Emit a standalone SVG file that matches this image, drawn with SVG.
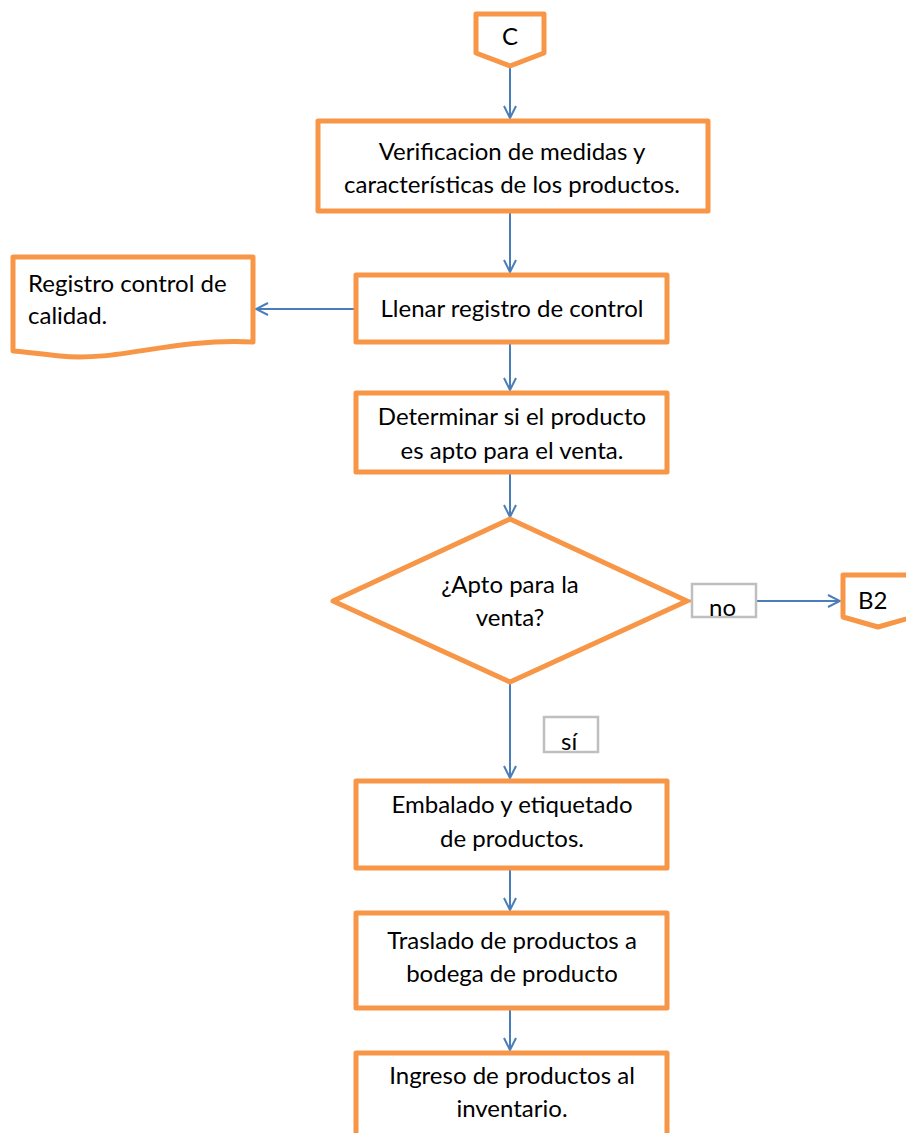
<svg xmlns="http://www.w3.org/2000/svg" width="906" height="1133" viewBox="0 0 906 1133">
  <style>
    .shape { fill: #ffffff; stroke: #f79646; stroke-width: 5; stroke-linejoin: round; }
    .label { fill: #ffffff; stroke: #bfbfbf; stroke-width: 2.5; }
    .txt { font-family: Lato, "Open Sans", sans-serif; font-size: 24px; fill: #000000; }
    .mid { text-anchor: middle; }
    .flow { fill: none; stroke: #4a7ebb; stroke-width: 2; marker-end: url(#arrow); }
  </style>
  <defs>
    <marker id="arrow" viewBox="0 0 14 14" refX="13" refY="7" markerWidth="14" markerHeight="14" markerUnits="userSpaceOnUse" orient="auto">
      <path d="M1,1 L13,7 L1,13" fill="none" stroke="#4a7ebb" stroke-width="2"/>
    </marker>
  </defs>
  <rect width="906" height="1133" fill="#ffffff"/>

  <g id="connectors">
    <path class="flow" d="M510,68 V118"/>
    <path class="flow" d="M510,211 V272"/>
    <path class="flow" d="M356,309 H256"/>
    <path class="flow" d="M510,342 V390"/>
    <path class="flow" d="M510,472 V517"/>
    <path d="M687,601 H692" stroke="#f79646" stroke-width="3"/>
    <path class="flow" d="M756,601 H840"/>
    <path class="flow" d="M510,682 V778"/>
    <path class="flow" d="M510,868 V910"/>
    <path class="flow" d="M510,1008 V1050"/>
  </g>

  <g id="node-c">
    <path class="shape" d="M476,14 H544 V53 L510,66 L476,53 Z"/>
    <text class="txt mid" x="510" y="45">C</text>
  </g>

  <g id="node-verificacion">
    <rect class="shape" x="318" y="121" width="390" height="90"/>
    <text class="txt mid" x="512" y="160">Verificacion de medidas y</text>
    <text class="txt mid" x="512" y="193">características de los productos.</text>
  </g>

  <g id="node-registro">
    <path class="shape" d="M13,257 H253 V342 C170,338 120,362 60,356 C40,354 25,352 13,351 Z"/>
    <text class="txt" x="28" y="292">Registro control de</text>
    <text class="txt" x="28" y="324">calidad.</text>
  </g>

  <g id="node-llenar">
    <rect class="shape" x="356" y="275" width="311" height="67"/>
    <text class="txt mid" x="512" y="317">Llenar registro de control</text>
  </g>

  <g id="node-determinar">
    <rect class="shape" x="356" y="393" width="311" height="79"/>
    <text class="txt mid" x="512" y="425">Determinar si el producto</text>
    <text class="txt mid" x="512" y="459">es apto para el venta.</text>
  </g>

  <g id="node-apto">
    <path class="shape" d="M510,519 L687,601 L510,682 L333,601 Z"/>
    <text class="txt mid" x="510" y="593">¿Apto para la</text>
    <text class="txt mid" x="510" y="626">venta?</text>
  </g>

  <g id="label-no">
    <rect class="label" x="692" y="584" width="64" height="33"/>
    <text class="txt" x="709" y="616">no</text>
  </g>

  <g id="node-b2">
    <path class="shape" d="M843,575 H913 V617 L878,627 L843,617 Z"/>
    <text class="txt" x="858" y="609">B2</text>
  </g>

  <g id="label-si">
    <rect class="label" x="544" y="717" width="54" height="35"/>
    <text class="txt" x="561" y="750">sí</text>
  </g>

  <g id="node-embalado">
    <rect class="shape" x="356" y="781" width="311" height="87"/>
    <text class="txt mid" x="512" y="813">Embalado y etiquetado</text>
    <text class="txt mid" x="512" y="847">de productos.</text>
  </g>

  <g id="node-traslado">
    <rect class="shape" x="356" y="913" width="311" height="95"/>
    <text class="txt mid" x="512" y="949">Traslado de productos a</text>
    <text class="txt mid" x="512" y="982">bodega de producto</text>
  </g>

  <g id="node-ingreso">
    <rect class="shape" x="356" y="1053" width="311" height="100"/>
    <text class="txt mid" x="512" y="1084">Ingreso de productos al</text>
    <text class="txt mid" x="512" y="1117">inventario.</text>
  </g>
</svg>
